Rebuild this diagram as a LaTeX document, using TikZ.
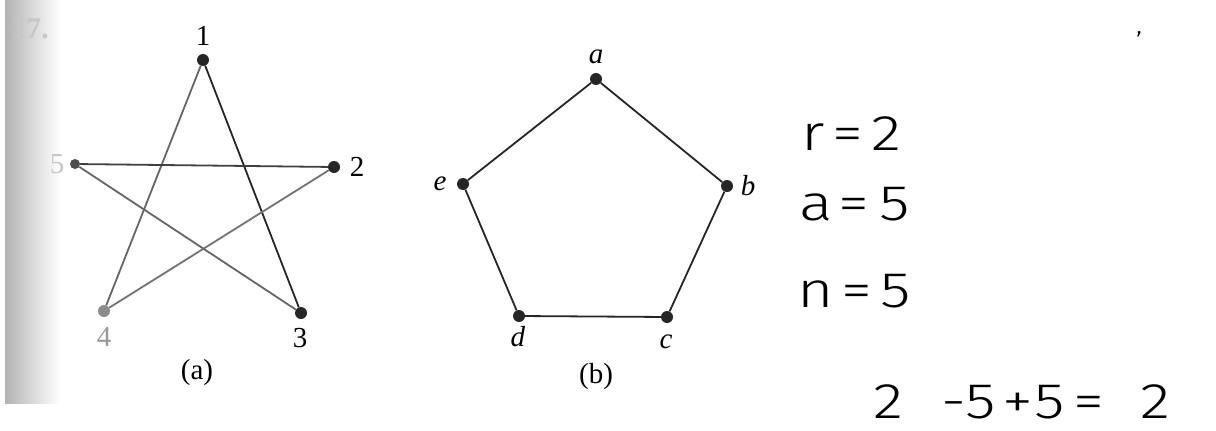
\documentclass[tikz,border=0pt]{standalone}
\usepackage{fontspec}
\setmainfont{Liberation Serif}
\newfontfamily\hand[FakeStretch=1.25]{Fira Sans Light}
\begin{document}
\begin{tikzpicture}[x=1pt,y=-1pt,
  vtx/.style={circle,fill=#1,inner sep=0pt,minimum size=12pt},
  vtx/.default={black!85},
  lbl/.style={font=\fontsize{29}{32}\selectfont,inner sep=1pt},
  edge/.style={line width=1.8pt,draw=#1},
  edge/.default={black!85},
  hw/.style={font=\hand\fontsize{50}{54}\selectfont,anchor=west,inner sep=0pt}]
\useasboundingbox (0,0) rectangle (1216,431);
\fill[white] (0,0) rectangle (1216,431);
% scan shadow strip
\shade[left color=black!30,right color=white] (5,0) rectangle (60,403);
\node[font=\bfseries\fontsize{30}{32}\selectfont,text=black!22] (num) at (30,29) {17.};
% ---- graph (a)
\node[vtx] (v1) at (203,60) {};
\node[vtx] (v2) at (334,167) {};
\node[vtx] (v3) at (301,313) {};
\node[vtx=black!45] (v4) at (104,311) {};
\node[vtx=black!70,minimum size=10pt] (v5) at (75,164) {};
\node[lbl] (l1) at (203,36) {1};
\node[lbl] (l2) at (357,167) {2};
\node[lbl] (l3) at (300,338) {3};
\node[lbl,text=black!40] (l4) at (104,337) {4};
\node[lbl,text=black!22] (l5) at (57,164) {5};
\node[lbl] (ca) at (197,373) {(a)};
\draw[edge=black!85] (v1) -- (v3);
\draw[edge=black!60] (v1) -- (v4);
\draw[edge=black!75] (v5) -- (v2);
\draw[edge=black!55] (v2) -- (v4);
\draw[edge=black!60] (v5) -- (v3);
% ---- graph (b)
\node[vtx] (a) at (596,79) {};
\node[vtx] (b) at (727,186) {};
\node[vtx] (c) at (667,317) {};
\node[vtx] (d) at (519,316) {};
\node[vtx] (e) at (463,184) {};
\node[lbl] (la) at (596,57) {\textit{a}};
\node[lbl] (lb) at (748,186) {\textit{b}};
\node[lbl] (lc) at (666,342) {\textit{c}};
\node[lbl] (ld) at (518,337) {\textit{d}};
\node[lbl] (le) at (440,184) {\textit{e}};
\node[lbl] (cb) at (596,377) {(b)};
\draw[edge] (a) -- (b) -- (c) -- (d) -- (e) -- (a);
% ---- handwriting
\node[hw,font=\hand\fontsize{24}{26}\selectfont] (h0) at (1136,34) {,};
\node[hw] (h1) at (801,134) {r\hspace{8pt}=\hspace{8pt}2};
\node[hw] (h2) at (799,204) {a\hspace{6pt}=\hspace{10pt}5};
\node[hw] (h3) at (797,291) {n\hspace{8pt}=\hspace{8pt}5};
\node[hw] (h4) at (873,402) {2\hspace{38pt}-5\hspace{6pt}+\hspace{2pt}5\hspace{8pt}=\hspace{36pt}2};
\end{tikzpicture}
\end{document}
